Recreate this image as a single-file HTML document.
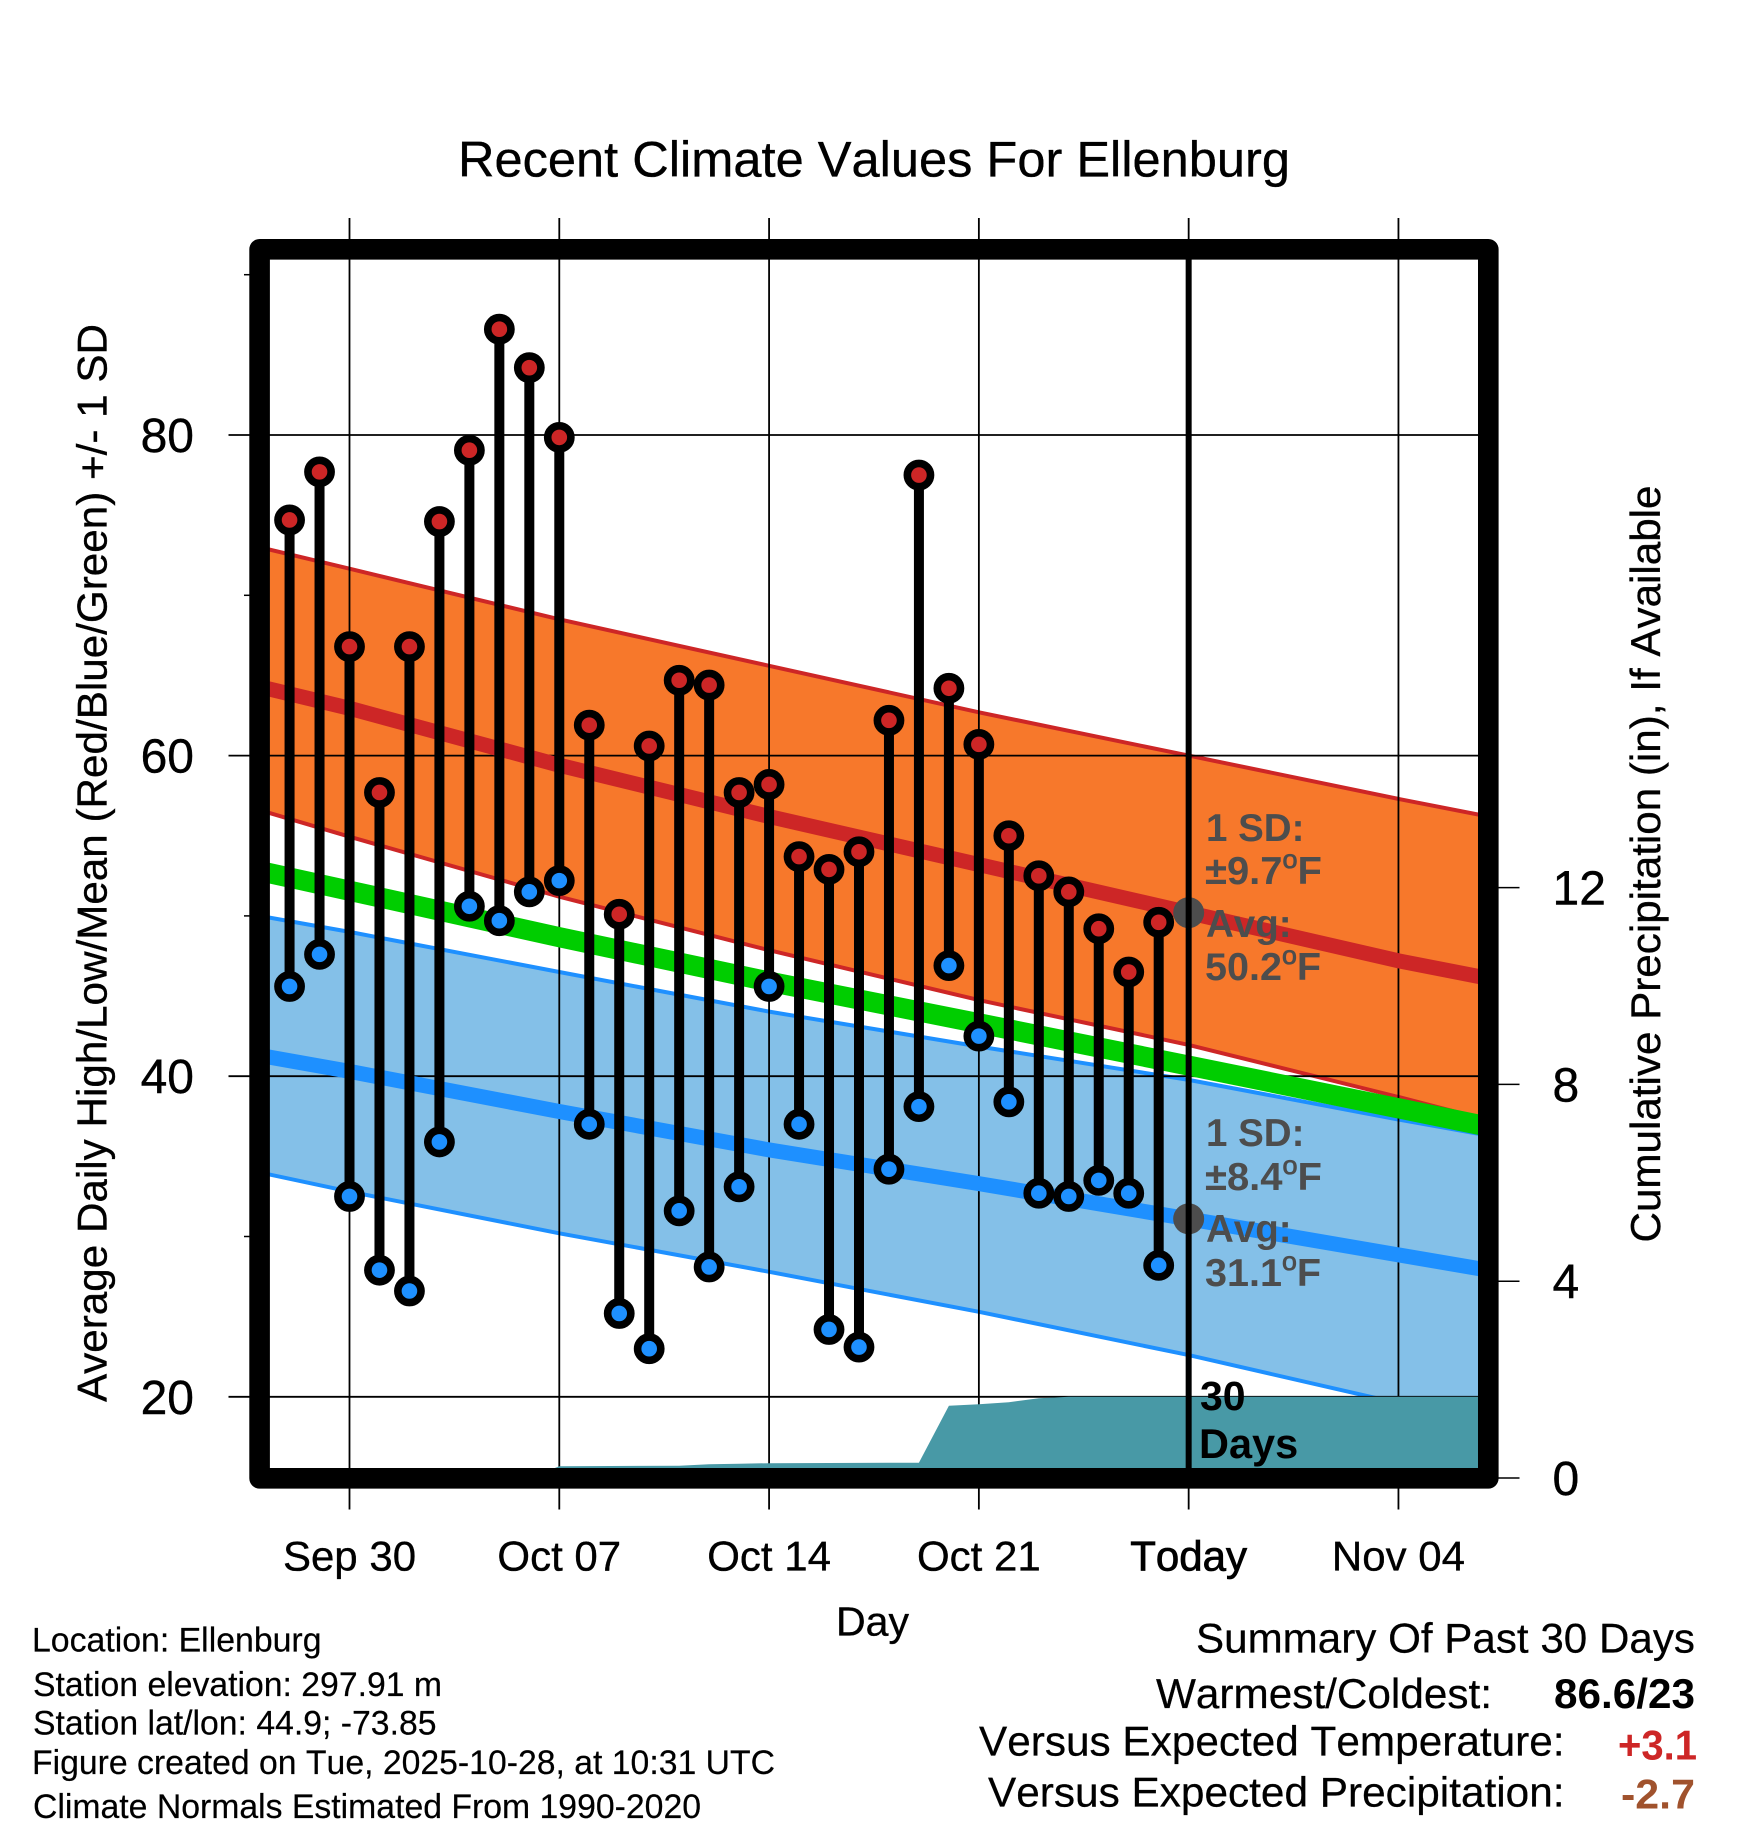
<!DOCTYPE html>
<html lang="en">
<head>
<meta charset="utf-8">
<title>Recent Climate Values For Ellenburg</title>
<style>
html,body{margin:0;padding:0;background:#fff;}
svg{display:block;}
text{font-family:"Liberation Sans",Arial,sans-serif;font-kerning:none;}
.b{font-weight:bold;}
.ink{stroke:#000;stroke-width:.35px;}
.note{font-size:38.5px;font-weight:bold;fill:#4d4d4d;}
.sup{font-size:26px;font-weight:normal;stroke:#4d4d4d;stroke-width:.8px;}
.foot{font-size:34px;fill:#000;stroke:#000;stroke-width:.2px;}
.sum{font-size:41.5px;fill:#000;}
.sumink{stroke:#000;stroke-width:.25px;}
</style>
</head>
<body>
<svg id="chart" xmlns="http://www.w3.org/2000/svg" width="1748" height="1828" viewBox="0 0 1748 1828">
  <defs>
    <clipPath id="plot-clip"><rect x="259.6" y="249.3" width="1228.7" height="1229"/></clipPath>
  </defs>
  <rect x="0" y="0" width="1748" height="1828" fill="#ffffff"/>
  <g id="bands" clip-path="url(#plot-clip)"></g>
  <g id="grid"></g>
  <g id="means" clip-path="url(#plot-clip)"></g>
  <g id="precip" clip-path="url(#plot-clip)"></g>
  <g id="notes-under"></g>
  <g id="stems"></g>
  <g id="markers"></g>

  <g>
    <text class="note" x="1206" y="841">1 SD:</text>
    <text class="note" x="1205" y="884" textLength="117" lengthAdjust="spacingAndGlyphs">±9.7<tspan class="sup" dy="-16">o</tspan><tspan dy="16">F</tspan></text>
    <text class="note" x="1206" y="937">Avg:</text>
    <text class="note" x="1205" y="980" textLength="116" lengthAdjust="spacingAndGlyphs">50.2<tspan class="sup" dy="-16">o</tspan><tspan dy="16">F</tspan></text>
  </g>
  <g>
    <text class="note" x="1206" y="1146">1 SD:</text>
    <text class="note" x="1205" y="1190" textLength="117" lengthAdjust="spacingAndGlyphs">±8.4<tspan class="sup" dy="-16">o</tspan><tspan dy="16">F</tspan></text>
    <text class="note" x="1206" y="1242">Avg:</text>
    <text class="note" x="1205" y="1286" textLength="116" lengthAdjust="spacingAndGlyphs">31.1<tspan class="sup" dy="-16">o</tspan><tspan dy="16">F</tspan></text>
  </g>
  <g>
    <text class="b" x="1200" y="1410" font-size="41" fill="#000">30</text>
    <text class="b" x="1199" y="1458" font-size="41.5" fill="#000">Days</text>
  </g>

  <rect x="259.6" y="249.3" width="1228.7" height="1229" fill="none" stroke="#000" stroke-width="20.6" stroke-linejoin="round"/>
  <g id="tick-labels"></g>

  <text class="ink" x="458" y="176.5" font-size="50" fill="#000" textLength="832" lengthAdjust="spacingAndGlyphs">Recent Climate Values For Ellenburg</text>
  <text class="ink" x="836" y="1635.5" font-size="41" fill="#000" textLength="73" lengthAdjust="spacingAndGlyphs">Day</text>
  <text class="ink" transform="translate(106.5 1402) rotate(-90)" font-size="42" fill="#000" textLength="1078" lengthAdjust="spacingAndGlyphs">Average Daily High/Low/Mean (Red/Blue/Green) +/- 1 SD</text>
  <text class="ink" transform="translate(1660 1242.5) rotate(-90)" font-size="42" fill="#000" textLength="757" lengthAdjust="spacingAndGlyphs">Cumulative Precipitation (in), If Available</text>

  <g>
    <text class="foot" x="32" y="1651.5" textLength="289.5" lengthAdjust="spacingAndGlyphs">Location: Ellenburg</text>
    <text class="foot" x="33" y="1696" textLength="409" lengthAdjust="spacingAndGlyphs">Station elevation: 297.91 m</text>
    <text class="foot" x="33" y="1734.5" textLength="403.5" lengthAdjust="spacingAndGlyphs">Station lat/lon: 44.9; -73.85</text>
    <text class="foot" x="32" y="1774" textLength="743" lengthAdjust="spacingAndGlyphs">Figure created on Tue, 2025-10-28, at 10:31 UTC</text>
    <text class="foot" x="33" y="1818" textLength="668" lengthAdjust="spacingAndGlyphs">Climate Normals Estimated From 1990-2020</text>
  </g>
  <g>
    <text class="sum sumink" x="1196" y="1652.5" textLength="499" lengthAdjust="spacingAndGlyphs">Summary Of Past 30 Days</text>
    <text class="sum sumink" x="1156" y="1708" textLength="336" lengthAdjust="spacingAndGlyphs">Warmest/Coldest:</text>
    <text class="sum b" x="1554" y="1708" textLength="141" lengthAdjust="spacingAndGlyphs">86.6/23</text>
    <text class="sum sumink" x="979" y="1755.5" textLength="585.5" lengthAdjust="spacingAndGlyphs">Versus Expected Temperature:</text>
    <text class="sum b" x="1618" y="1759.5" style="fill:#cd2626" textLength="79" lengthAdjust="spacingAndGlyphs">+3.1</text>
    <text class="sum sumink" x="988" y="1806.5" textLength="576.5" lengthAdjust="spacingAndGlyphs">Versus Expected Precipitation:</text>
    <text class="sum b" x="1621" y="1808.5" style="fill:#a0522d" textLength="74" lengthAdjust="spacingAndGlyphs">-2.7</text>
  </g>
</svg>
<script>
// ---- Data ----
const dayLabels = ['Sep 28','Sep 29','Sep 30','Oct 01','Oct 02','Oct 03','Oct 04','Oct 05','Oct 06','Oct 07','Oct 08','Oct 09','Oct 10','Oct 11','Oct 12','Oct 13','Oct 14','Oct 15','Oct 16','Oct 17','Oct 18','Oct 19','Oct 20','Oct 21','Oct 22','Oct 23','Oct 24','Oct 25','Oct 26','Oct 27'];
const dailyHigh = [74.7,77.7,66.8,57.7,66.8,74.6,79.05,86.6,84.2,79.85,61.9,50.1,60.6,64.7,64.4,57.7,58.2,53.7,52.9,54,62.2,77.5,64.2,60.7,55,52.5,51.5,49.2,46.5,49.6];
const dailyLow = [45.6,47.6,32.5,27.9,26.6,35.9,50.6,49.7,51.5,52.2,37,25.2,23,31.6,28.1,33.1,45.6,37,24.2,23.1,34.2,38.1,46.9,42.5,38.4,32.7,32.5,33.5,32.7,28.2];

// Normals, sampled at these days (days after Sep 30)
const normalDays = [-3,0,7,14,21,28,35,38];
const highPlusSd = [73,71.66,68.5,65.6,62.7,60,57.3,56.2];
const highMean = [64.3,62.95,59.4,56.2,53.2,50.2,47.2,46.1];
const highMinusSd = [56.6,54.94,51.2,47.86,44.75,41.95,38.7,37.25];
const overallMean = [52.8,51.57,48.67,45.9,43.3,40.66,38,36.85];
const lowPlusSd = [50,49,46.5,44.03,41.85,39.77,37.3,36.3];
const lowMean = [41.3,40.3,37.8,35.4,33.3,31.1,28.85,27.9];
const lowMinusSd = [34,32.8,30.2,27.8,25.3,22.6,19.6,18.6];

// Cumulative precipitation (inches)
const precipDays = [6,7,11,12,13,14,18,19,20,21,22,23,24,38];
const precipTotal = [0,0.24,0.25,0.28,0.29,0.3,0.31,0.31,1.47,1.5,1.54,1.62,1.65,1.65];

// Axis ticks
const xTickDays = [0,7,14,21,28,35];
const xTickLabels = ['Sep 30','Oct 07','Oct 14','Oct 21','Today','Nov 04'];
const yMajorTicks = [80,60,40,20];
const yMinorTicks = [90,70,50,30];
const y2Ticks = [0,4,8,12];
const todayDay = 28;
const todayHighAvg = 50.2;
const todayLowAvg = 31.1;

// ---- Axis functions ----
function xScale(day){ return 349.5 + day * 29.97; }
function yScale(temp){ return 435 + (80 - temp) * 16.03; }
function y2Scale(inches){ return 1478 - inches * 49.2; }
function dayOfIndex(i){ return i - 2; }

const NS = 'http://www.w3.org/2000/svg';
function mk(tag, parentId, attrs){
  const el = document.createElementNS(NS, tag);
  for (const k in attrs) el.setAttribute(k, attrs[k]);
  document.getElementById(parentId).appendChild(el);
  return el;
}
function linePath(days, vals, scale){
  return days.map((d,i)=>(i?'L':'M')+xScale(d).toFixed(1)+' '+scale(vals[i]).toFixed(1)).join(' ');
}
function bandPath(days, upper, lower){
  const top = days.map((d,i)=>xScale(d).toFixed(1)+','+yScale(upper[i]).toFixed(1));
  const bot = days.map((d,i)=>xScale(d).toFixed(1)+','+yScale(lower[i]).toFixed(1)).reverse();
  return 'M'+top.concat(bot).join(' L')+' Z';
}

// ---- Bands ----
const lowBand = mk('path','bands',{d:bandPath(normalDays,lowPlusSd,lowMinusSd),fill:'#84c0e8'});


const lowTop = mk('path','bands',{d:linePath(normalDays,lowPlusSd,yScale),fill:'none',stroke:'#1e90ff','stroke-width':4});


const lowBot = mk('path','bands',{d:linePath(normalDays,lowMinusSd,yScale),fill:'none',stroke:'#1e90ff','stroke-width':4});


const highBand = mk('path','bands',{d:bandPath(normalDays,highPlusSd,highMinusSd),fill:'#f7782b'});


const highTop = mk('path','bands',{d:linePath(normalDays,highPlusSd,yScale),fill:'none',stroke:'#cd2626','stroke-width':4});


const highBot = mk('path','bands',{d:linePath(normalDays,highMinusSd,yScale),fill:'none',stroke:'#cd2626','stroke-width':4});



// ---- Means ----
const highMeanLine = mk('path','means',{d:linePath(normalDays,highMean,yScale),fill:'none',stroke:'#cd2626','stroke-width':15});


const lowMeanLine = mk('path','means',{d:linePath(normalDays,lowMean,yScale),fill:'none',stroke:'#1e90ff','stroke-width':15});


const overallLine = mk('path','means',{d:linePath(normalDays,overallMean,yScale),fill:'none',stroke:'#00cd00','stroke-width':20.2});



// ---- Grid and ticks ----
xTickDays.forEach((d,i)=>{
  const x = xScale(d);
  const g = mk('line','grid',{x1:x,x2:x,y1:218,y2:1509.5,stroke:'#000','stroke-width':1.8});
  
  
  const t = mk('text','tick-labels',{x:x,y:1570.5,'font-size':42,'text-anchor':'middle',fill:'#000',stroke:'#000','stroke-width':xTickLabels[i]==='Today'?0.8:0.35});
  
  
  t.textContent = xTickLabels[i];
});
yMajorTicks.forEach((v,i)=>{
  const y = yScale(v);
  const g = mk('line','grid',{x1:228.5,x2:1478,y1:y,y2:y,stroke:'#000','stroke-width':1.8});
  
  
  const t = mk('text','tick-labels',{x:194,y:y+17,'font-size':48,'text-anchor':'end',fill:'#000',stroke:'#000','stroke-width':0.4});
  
  
  t.textContent = String(v);
});
yMinorTicks.forEach((v)=>{
  const y = yScale(v);
  const g = mk('line','grid',{x1:244,x2:252,y1:y,y2:y,stroke:'#000','stroke-width':1.5});
  
  
});
y2Ticks.forEach((v)=>{
  const y = y2Scale(v);
  const g = mk('line','grid',{x1:1496,x2:1519.5,y1:y,y2:y,stroke:'#000','stroke-width':1.5});
  
  
  const t = mk('text','tick-labels',{x:1552.5,y:y+17,'font-size':48,fill:'#000',stroke:'#000','stroke-width':0.4});
  
  
  t.textContent = String(v);
});

// ---- Precipitation ----
const precipPts = precipDays.map((d,i)=>xScale(d).toFixed(1)+','+y2Scale(precipTotal[i]).toFixed(1));
const precipArea = mk('polygon','precip',{
  points: xScale(precipDays[0]).toFixed(1)+','+y2Scale(0)+' '+precipPts.join(' ')+' '+xScale(precipDays[precipDays.length-1]).toFixed(1)+','+y2Scale(0),
  fill:'#4899a6'
});



// ---- Today markers and line ----
const todayHighDot = mk('circle','notes-under',{cx:xScale(todayDay),cy:yScale(todayHighAvg),r:15.5,fill:'#4d4d4d'});


const todayLowDot = mk('circle','notes-under',{cx:xScale(todayDay),cy:yScale(todayLowAvg),r:15.5,fill:'#4d4d4d'});


const todayLine = mk('line','notes-under',{x1:xScale(todayDay),x2:xScale(todayDay),y1:249,y2:1478,stroke:'#000','stroke-width':6});



// ---- Daily high/low ----
dayLabels.forEach((label,i)=>{
  const x = xScale(dayOfIndex(i));
  const stem = mk('line','stems',{x1:x,x2:x,y1:yScale(dailyHigh[i]),y2:yScale(dailyLow[i]),stroke:'#000','stroke-width':10});
  
  
});
dayLabels.forEach((label,i)=>{
  const x = xScale(dayOfIndex(i));
  const lo = mk('circle','markers',{cx:x,cy:yScale(dailyLow[i]),r:11.6,fill:'#1e90ff',stroke:'#000','stroke-width':7.6});
  
  
  const hi = mk('circle','markers',{cx:x,cy:yScale(dailyHigh[i]),r:11.6,fill:'#cd2626',stroke:'#000','stroke-width':7.6});
  
  
});
</script>
</body>
</html>
